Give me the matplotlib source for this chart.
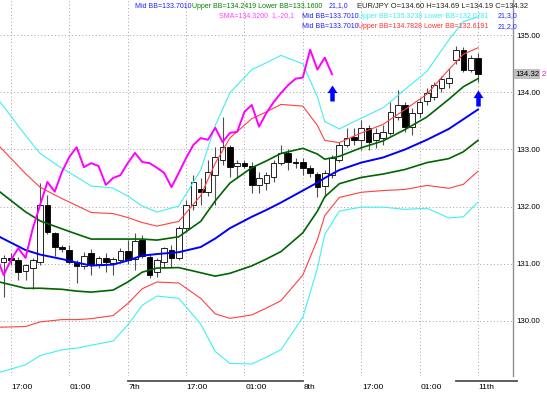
import numpy as np
import matplotlib.pyplot as plt
from matplotlib.path import Path
from matplotlib.transforms import blended_transform_factory

plt.rcParams['font.family'] = ['Liberation Sans', 'DejaVu Sans']

# hourly EUR/JPY candles
opens = [131.03, 131.10, 131.06, 130.87, 130.92, 131.03, 132.03, 131.54, 131.29, 131.24,
         131.03, 130.96, 131.18, 130.99, 131.10, 131.01, 131.06, 131.22, 131.08, 131.41,
         131.11, 130.85, 131.03, 131.24, 131.10, 131.62, 132.03, 132.31, 132.26, 132.55,
         132.82, 133.04, 132.71, 132.76, 132.71, 132.38, 132.41, 132.52, 132.76, 132.94,
         132.78, 132.78, 132.68, 132.57, 132.36, 132.55, 132.82, 133.08, 133.22, 133.17,
         133.38, 133.17, 133.20, 133.29, 133.57, 133.78, 133.40, 133.64, 133.85, 133.92,
         134.08, 134.17, 134.57, 134.75, 134.40, 134.60]
highs = [131.15, 131.18, 131.12, 130.99, 131.10, 132.41, 132.20, 131.56, 131.33, 131.33,
         131.06, 131.20, 131.25, 131.13, 131.19, 131.12, 131.27, 131.41, 131.53, 131.50,
         131.17, 131.09, 131.29, 131.32, 131.66, 132.11, 132.55, 132.50, 132.82, 133.04,
         133.57, 133.08, 132.82, 132.82, 132.78, 132.61, 132.61, 132.82, 133.08, 133.00,
         132.85, 132.85, 132.73, 132.61, 132.64, 132.90, 133.13, 133.38, 133.38, 133.52,
         133.43, 133.38, 133.43, 133.83, 134.05, 133.83, 133.73, 133.90, 134.08, 134.18,
         134.29, 134.43, 134.81, 134.80, 134.66, 134.69]
lows = [130.41, 130.98, 130.71, 130.71, 130.55, 130.97, 131.52, 131.13, 131.20, 130.99,
        130.66, 130.90, 130.80, 130.92, 130.85, 130.80, 131.01, 131.00, 130.89, 131.10,
        130.75, 130.76, 130.92, 130.92, 131.06, 131.55, 131.94, 132.03, 132.18, 132.03,
        132.73, 132.52, 132.50, 132.68, 132.24, 132.24, 132.29, 132.43, 132.73, 132.64,
        132.68, 132.55, 132.52, 132.17, 132.17, 132.50, 132.78, 133.04, 133.08, 132.99,
        132.99, 133.03, 133.08, 133.26, 133.52, 133.31, 133.26, 133.55, 133.78, 133.87,
        134.01, 134.08, 134.50, 134.36, 134.36, 134.19]
closes = [131.10, 131.06, 130.86, 130.97, 131.06, 132.03, 131.55, 131.29, 131.25, 131.03,
          130.96, 131.13, 130.97, 131.10, 131.03, 131.08, 131.22, 131.06, 131.40, 131.13,
          130.80, 131.06, 131.27, 131.10, 131.62, 132.03, 132.43, 132.26, 132.61, 132.87,
          133.04, 132.69, 132.76, 132.71, 132.38, 132.50, 132.55, 132.76, 132.94, 132.78,
          132.76, 132.68, 132.59, 132.34, 132.59, 132.85, 133.08, 133.20, 133.17, 133.38,
          133.13, 133.29, 133.31, 133.66, 133.78, 133.40, 133.64, 133.83, 133.99, 134.13,
          134.24, 134.26, 134.75, 134.40, 134.61, 134.32]

# Bollinger(21) middle line and standard deviation, read at some bars
band_bars = [-0.5, 3, 5, 8, 10, 12, 15, 17, 19, 21, 24, 27, 29, 31, 34, 36, 38, 41, 43,
             44, 46, 49, 52, 55, 58, 61, 63, 65]
band_mid = [131.465, 131.237, 131.158, 131.079, 131.018, 130.965, 130.983, 131.053, 131.14,
            131.167, 131.20, 131.29, 131.44, 131.62, 131.82, 131.94, 132.07, 132.28, 132.42,
            132.50, 132.64, 132.77, 132.86, 133.00, 133.17, 133.36, 133.53, 133.701]
band_sd = [0.79, 0.67, 0.59, 0.53, 0.50, 0.465, 0.447, 0.377, 0.29, 0.245, 0.27, 0.45, 0.66,
           0.79, 0.86, 0.86, 0.86, 0.74, 0.50, 0.33, 0.24, 0.26, 0.29, 0.35, 0.40, 0.52,
           0.57, 0.541]

sma_shift = 20  # "SMA 1,-20" : close drawn 20 bars back

arrow_bars = [45, 65]
arrow_prices = [133.99, 133.91]

grid_bars = [1, 9, 17, 25, 33, 41, 49, 57, 65]
grid_labels = ['17:00', '01:00', '7th', '17:00', '01:00', '8th', '17:00', '01:00', '11th']
price_ticks = [130, 131, 132, 133, 134, 135]

W, H = 547, 394
fig = plt.figure(figsize=(W / 100, H / 100), dpi=100)
ax = fig.add_axes([0, 18 / H, 513 / W, 376 / H])

bars = np.arange(len(closes))
o = np.array(opens)
c = np.array(closes)

# grid
for g in grid_bars:
    ax.axvline(g, color='#a8a0a8', lw=0.7, ls=(0, (1, 2.5)), zorder=0)
for p in price_ticks:
    ax.axhline(p, color='#a8a0a8', lw=0.7, ls=(0, (1, 2.5)), zorder=0)

# candles
ax.vlines(bars, lows, highs, color='#505050', lw=0.8, zorder=2)
body_bottom = np.minimum(o, c)
body_height = np.maximum(np.abs(c - o), 0.012)
body_colors = ['black' if cl < op else 'white' for op, cl in zip(o, c)]
ax.bar(bars, body_height, bottom=body_bottom, width=0.78, color=body_colors,
       edgecolor='black', linewidth=0.6, zorder=3)

# bollinger bands
mid = np.array(band_mid)
sd = np.array(band_sd)
ax.plot(band_bars, mid + 3 * sd, color='#40f0f0', lw=0.8, zorder=4)
ax.plot(band_bars, mid - 3 * sd, color='#40f0f0', lw=0.8, zorder=4)
ax.plot(band_bars, mid + 2 * sd, color='#ff4040', lw=0.8, zorder=4)
ax.plot(band_bars, mid - 2 * sd, color='#ff4040', lw=0.8, zorder=4)
ax.plot(band_bars, mid + sd, color='#006400', lw=1.2, zorder=4)
ax.plot(band_bars, mid - sd, color='#006400', lw=1.2, zorder=4)
ax.plot(band_bars, mid, color='#0000ff', lw=1.4, zorder=4)

# lagging close (left part clipped by the axes)
ax.plot(bars - sma_shift, c, color='#ff00ff', lw=1.4, zorder=5)

# signal arrows
arrow = Path([(-0.62, 0.05), (0, 1), (0.62, 0.05), (0.28, 0.05), (0.28, -1),
              (-0.28, -1), (-0.28, 0.05), (-0.62, 0.05)])
ax.plot(arrow_bars, arrow_prices, ls='none', marker=arrow, markersize=11.5,
        color='#0000ff', markeredgewidth=0, zorder=6)

ax.set_xlim(-0.5, 69.8)
ax.set_ylim(129.03, 135.62)
for s in ['left', 'top', 'bottom']:
    ax.spines[s].set_visible(False)
ax.spines['right'].set_color('#909090')
ax.spines['right'].set_linewidth(1.0)
ax.set_xticks([])
ax.yaxis.tick_right()
ax.set_yticks(price_ticks)
ax.set_yticklabels(['%.2f' % p for p in price_ticks])
ax.tick_params(axis='y', length=0, pad=2.5, labelsize=5.7)

# current price label
tr = blended_transform_factory(ax.transAxes, ax.transData)
ax.text(1.004, closes[-1], '%.2f' % closes[-1], transform=tr, fontsize=5.7,
        color='black', va='center', ha='left', clip_on=False,
        bbox=dict(boxstyle='square,pad=0.15', fc='#c0c0c0', ec='none'))
ax.text(1.0565, closes[-1], '2', transform=tr, fontsize=5.7,
        color='#ff00ff', va='center', ha='left', clip_on=False)

# time labels under the chart
trx = blended_transform_factory(ax.transData, ax.transAxes)
for g, lab in zip(grid_bars, grid_labels):
    ax.text(g + 0.1, -0.031, lab, transform=trx, fontsize=6.0, va='center', ha='left',
            clip_on=False)
ax.plot([17, 41], [-0.0145, -0.0145], transform=trx, color='#505050', lw=1.3, clip_on=False)
ax.plot([62, 70.3], [-0.0145, -0.0145], transform=trx, color='#505050', lw=1.3, clip_on=False)

# indicator headers
def header(y, parts, size=5.0):
    for px, txt, col in parts:
        fig.text(px / W, 1 - y / H, txt, color=col, fontsize=size, va='center', ha='left')

header(6, [(135, 'Mid BB=133.7010', '#2020ff'),
           (192, 'Upper BB=134.2419 Lower BB=133.1600', '#008000'),
           (329, '21,1,0', '#2020ff')])
header(6, [(357, 'EUR/JPY O=134.60 H=134.69 L=134.19 C=134.32', '#202020')], size=5.4)
header(16, [(219, 'SMA=134.3200  1,-20,1', '#ff40ff'),
            (302, 'Mid BB=133.7010', '#2020ff'),
            (358, 'Upper BB=135.3238 Lower BB=132.0781', '#40f0f0'),
            (498, '21,3,0', '#2020ff')])
header(27, [(302, 'Mid BB=133.7010', '#2020ff'),
            (358, 'Upper BB=134.7828 Lower BB=132.6191', '#ff3030'),
            (498, '21,2,0', '#2020ff')])

fig.savefig('out.png', dpi=100)
